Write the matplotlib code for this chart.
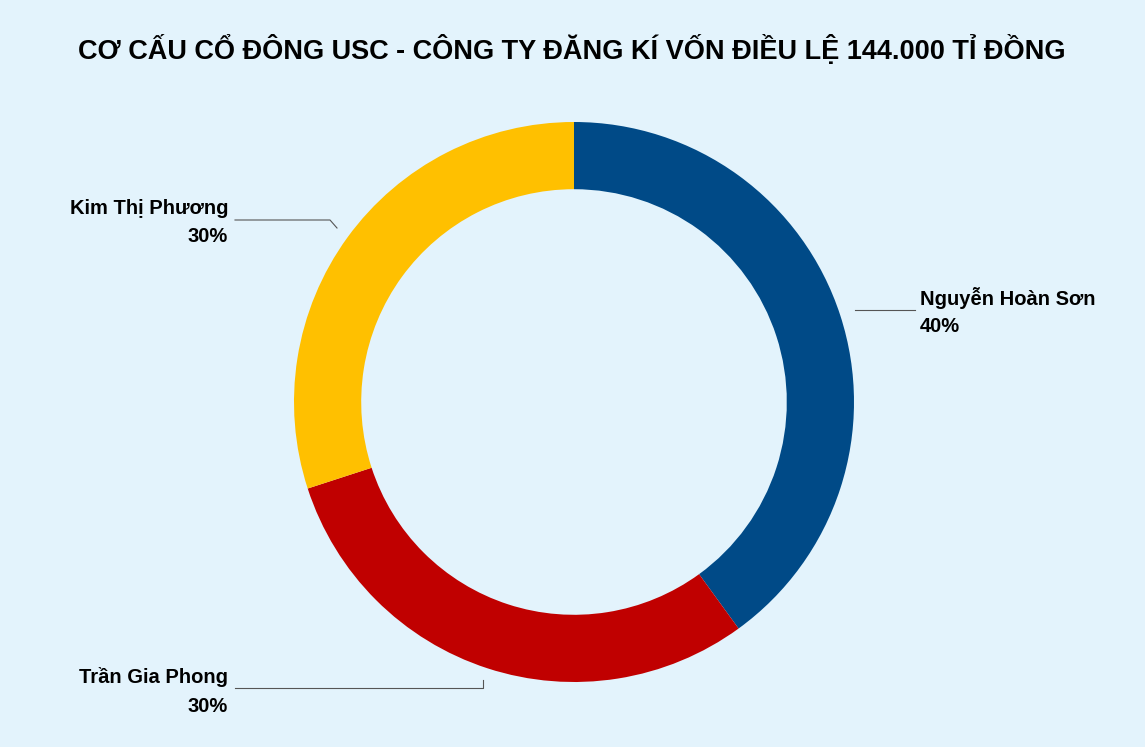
import matplotlib.pyplot as plt

# du lieu
ten = ['Nguyễn Hoàn Sơn', 'Trần Gia Phong', 'Kim Thị Phương']
ty_le = [40, 30, 30]
mau = ['#004A87', '#C00000', '#FFC000']
nen = '#E3F3FC'

plt.rcParams['font.family'] = ['Liberation Sans', 'DejaVu Sans']

fig = plt.figure(figsize=(11.45, 7.47), dpi=100, facecolor=nen)
ax = fig.add_axes([0, 0, 1, 1])
ax.set_facecolor(nen)
ax.set_xlim(0, 1145)
ax.set_ylim(747, 0)
ax.axis('off')

# pie tren truc y dao nguoc -> dung counterclock=True de ve theo chieu kim dong ho
ax.pie(ty_le, colors=mau, startangle=-90, counterclock=True, center=(574, 402),
       radius=280, frame=True, wedgeprops=dict(width=280 * 0.24, edgecolor='none'))
ax.set_xlim(0, 1145)
ax.set_ylim(747, 0)
ax.axis('off')

ax.text(572, 50, 'CƠ CẤU CỔ ĐÔNG USC - CÔNG TY ĐĂNG KÍ VỐN ĐIỀU LỆ 144.000 TỈ ĐỒNG',
        ha='center', va='center', fontsize=19.5, fontweight='bold', color='black')

lc = '#555555'
# Nguyen Hoan Son
ax.plot([855, 915], [310, 310], color=lc, lw=0.8)
ax.text(920, 298, ten[0], ha='left', va='center', fontsize=14.5, fontweight='bold')
ax.text(920, 327, f'{ty_le[0]}%', ha='left', va='center', fontsize=14.5, fontweight='bold')
# Kim Thi Phuong
ax.plot([235, 330, 337], [220, 220, 228], color=lc, lw=0.8)
ax.text(228, 208, ten[2], ha='right', va='center', fontsize=14.5, fontweight='bold')
ax.text(228, 237, f'{ty_le[2]}%', ha='right', va='center', fontsize=14.5, fontweight='bold')
# Tran Gia Phong
ax.plot([235, 483, 483], [688, 688, 680], color=lc, lw=0.8)
ax.text(228, 677, ten[1], ha='right', va='center', fontsize=14.5, fontweight='bold')
ax.text(228, 706, f'{ty_le[1]}%', ha='right', va='center', fontsize=14.5, fontweight='bold')

fig.savefig('out.png', dpi=100, facecolor=nen)
